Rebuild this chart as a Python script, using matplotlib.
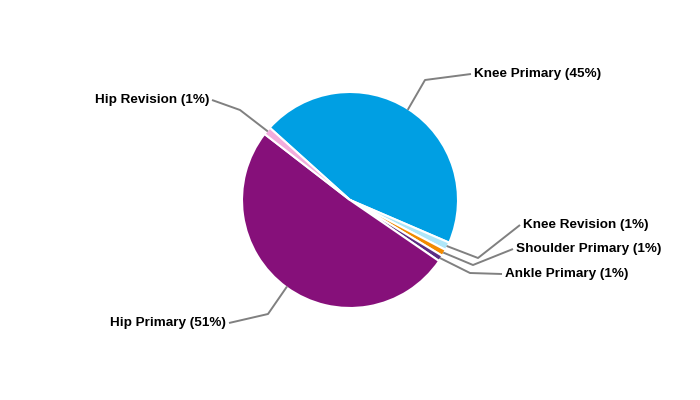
import numpy as np
import matplotlib
matplotlib.use('Agg')
import matplotlib.pyplot as plt

plt.rcParams['font.family'] = ['Liberation Sans', 'DejaVu Sans']

labels = ['Knee Primary', 'Knee Revision', 'Shoulder Primary', 'Ankle Primary', 'Hip Primary', 'Hip Revision']
values = [44.8, 1.2, 1.0, 0.9, 50.9, 1.2]
pct_text = ['45%', '1%', '1%', '1%', '51%', '1%']
colors = ['#009fe3', '#aee6f8', '#f28a00', '#5b2c83', '#86107a', '#f2acdc']

# elbow and text anchor (pixel coords, y down)
elbows = [(425, 80), (478, 258), (473, 265), (470, 273), (268, 314), (240, 110)]
ends = [(471, 74), (520, 225), (513, 249), (502, 274), (229, 323), (212, 100)]
sides = ['left', 'left', 'left', 'left', 'right', 'right']

W, H = 700, 400
cx, cy, R = 350, 200, 108
start = 138

fig = plt.figure(figsize=(7, 4), dpi=100)
ax = fig.add_axes([0, 0, 1, 1])

wedges, _ = ax.pie(values, colors=colors, startangle=start, counterclock=False,
                   center=(cx, H - cy), radius=R, frame=True,
                   wedgeprops=dict(edgecolor='white', linewidth=1.5))
ax.set_xlim(0, W)
ax.set_ylim(0, H)
ax.set_aspect('equal')
ax.axis('off')

for w, lab, p, el, en, side in zip(wedges, labels, pct_text, elbows, ends, sides):
    mid = np.deg2rad((w.theta1 + w.theta2) / 2)
    x0 = cx + (R - 1) * np.cos(mid)
    y0 = (H - cy) + (R - 1) * np.sin(mid)
    xs = [x0, el[0], en[0]]
    ys = [y0, H - el[1], H - en[1]]
    ax.plot(xs, ys, color='#808080', lw=1.4, solid_capstyle='butt')
    tx = en[0] + 3 if side == 'left' else en[0] - 3
    ax.text(tx, H - en[1], f'{lab} ({p})', ha=side, va='center',
            fontsize=9.7, fontweight='bold', color='black')

fig.savefig('out.png', dpi=100, facecolor='white')
